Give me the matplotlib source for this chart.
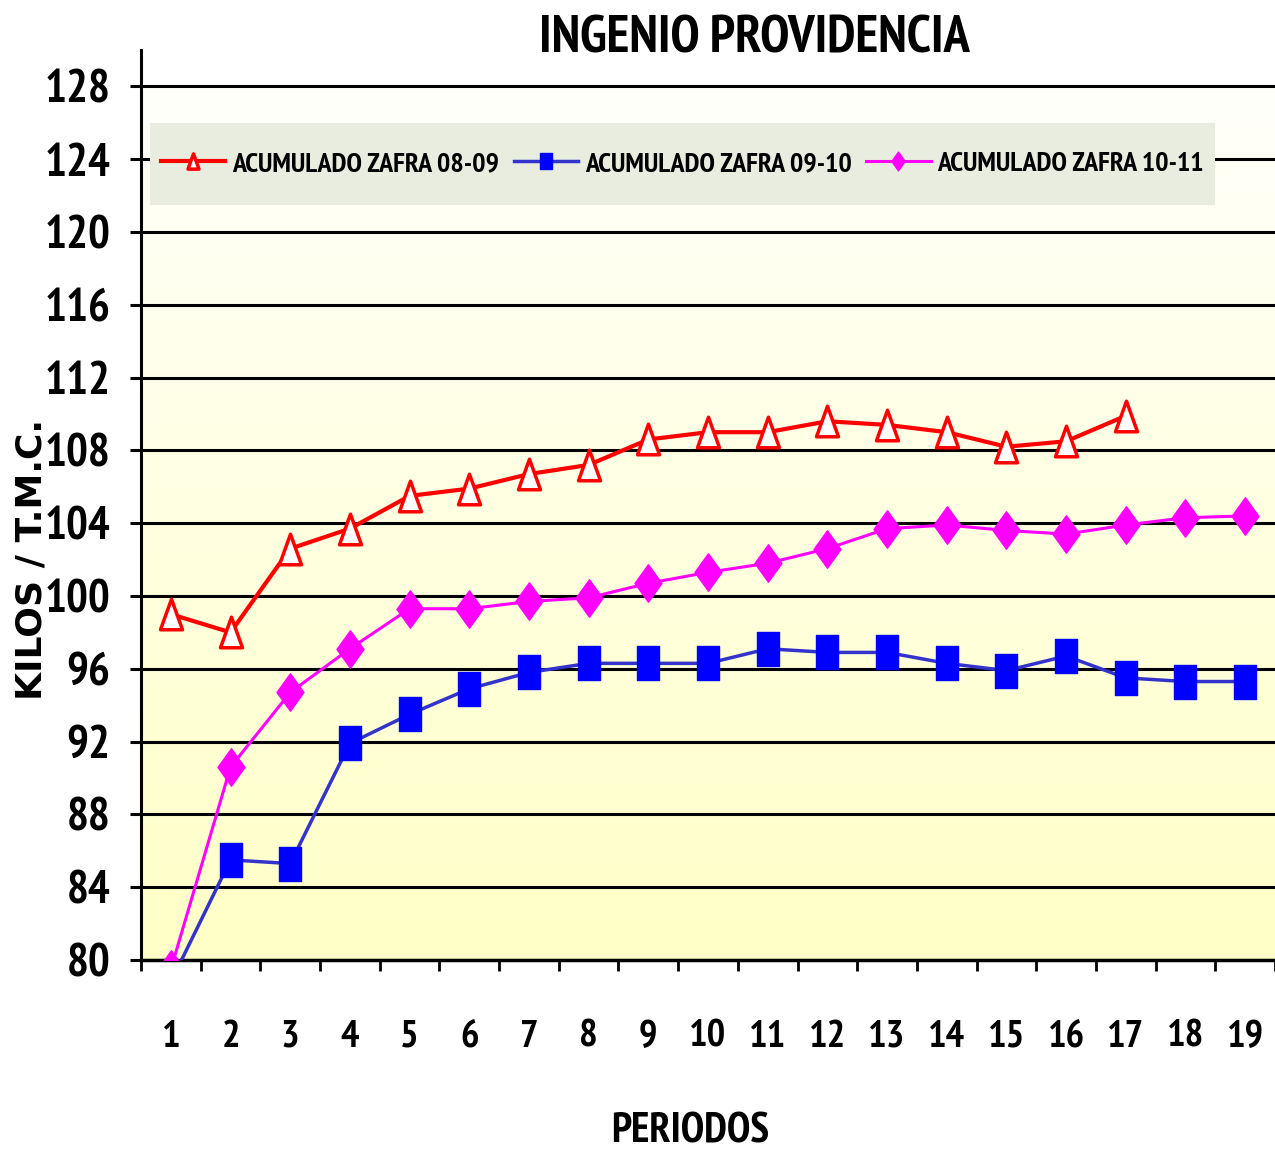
import numpy as np
import matplotlib
matplotlib.use("Agg")
import matplotlib.pyplot as plt
from matplotlib import font_manager as fm
from matplotlib.patches import Rectangle
from matplotlib.path import Path

periods = list(range(1, 20))
zafra_08_09 = [99.0, 98.0, 102.6, 103.7, 105.5, 105.9, 106.7, 107.2, 108.6, 109.0,
               109.0, 109.6, 109.4, 109.0, 108.2, 108.5, 109.9]
zafra_09_10 = [78.8, 85.5, 85.3, 91.9, 93.5, 94.9, 95.8, 96.3, 96.3, 96.3,
               97.1, 96.9, 96.9, 96.3, 95.9, 96.7, 95.5, 95.3, 95.3]
zafra_10_11 = [79.5, 90.6, 94.7, 97.1, 99.3, 99.3, 99.7, 99.9, 100.7, 101.3,
               101.8, 102.6, 103.7, 103.9, 103.6, 103.4, 103.9, 104.3, 104.4]
labels = ["ACUMULADO ZAFRA 08-09", "ACUMULADO ZAFRA 09-10", "ACUMULADO ZAFRA 10-11"]
y_ticks = list(range(80, 129, 4))


def bold_narrow_font():
    """Pick a bold condensed face if one is installed, else Liberation Sans Bold."""
    def is_bold(f):
        return f.weight in ("bold", 700, "heavy") or (isinstance(f.weight, int) and f.weight >= 600)
    fonts = fm.fontManager.ttflist
    for key in ("narrow", "condensed"):
        for f in fonts:
            if is_bold(f) and (key in f.name.lower() or key in str(f.stretch).lower()
                               or key in f.fname.lower()) and "oblique" not in f.fname.lower() \
                    and "italic" not in f.fname.lower():
                return f.fname, 1.0
    for f in fonts:
        if f.name == "Liberation Sans" and is_bold(f) and f.style == "normal":
            return f.fname, 0.84
    return None, 0.8


narrow_path, k = bold_narrow_font()


def fp(size):
    if narrow_path:
        return fm.FontProperties(fname=narrow_path, size=size)
    return fm.FontProperties(family="DejaVu Sans", weight="bold", size=size)


# markers in the source are stretched vertically
tri = Path([(-0.36, -0.5), (0.36, -0.5), (0.0, 0.5), (-0.36, -0.5)],
           [Path.MOVETO, Path.LINETO, Path.LINETO, Path.CLOSEPOLY])
rect = Path([(-0.34, -0.5), (0.34, -0.5), (0.34, 0.5), (-0.34, 0.5), (-0.34, -0.5)],
            [Path.MOVETO, Path.LINETO, Path.LINETO, Path.LINETO, Path.CLOSEPOLY])
diam = Path([(0.0, -0.5), (0.36, 0.0), (0.0, 0.5), (-0.36, 0.0), (0.0, -0.5)],
            [Path.MOVETO, Path.LINETO, Path.LINETO, Path.LINETO, Path.CLOSEPOLY])

fig = plt.figure(figsize=(12.75, 11.54), dpi=100)
ax = fig.add_axes([0.1106, 0.1681, 0.8894, 0.7886])

# background gradient (white at top to pale yellow at bottom)
grad = np.linspace(0, 1, 256).reshape(-1, 1)
top = np.array([1.0, 1.0, 0.985])
bottom = np.array([1.0, 1.0, 0.78])
img = top + (bottom - top) * grad
ax.imshow(img[:, None, :].repeat(2, axis=1), extent=(0.5, 19.5, 80, 128),
          aspect="auto", origin="upper", zorder=0)

ax.plot(periods[:len(zafra_08_09)], zafra_08_09, color="#FF0000", lw=3,
        marker=tri, ms=22, mfc="white", mec="#FF0000", mew=2.5,
        label=labels[0], zorder=3)
ax.plot(periods, zafra_09_10, color="#3333CC", lw=2.5,
        marker=rect, ms=24, mfc="#0000FF", mec="#0000FF", mew=1,
        label=labels[1], zorder=3)
ax.plot(periods, zafra_10_11, color="#FF00FF", lw=2.2,
        marker=diam, ms=27, mfc="#FF00FF", mec="#FF00FF", mew=1,
        label=labels[2], zorder=3)

ax.set_xlim(0.5, 19.5)
ax.set_ylim(80, 130)
ax.set_yticks(y_ticks)
ax.set_yticklabels([str(v) for v in y_ticks], fontproperties=fp(33 * (0.5 + k / 2)))
ax.set_xticks(periods)
ax.set_xticklabels([str(p) for p in periods], fontproperties=fp(28 * (0.5 + k / 2)))
ax.set_xticks(np.arange(0.5, 20, 1), minor=True)
ax.tick_params(axis="x", which="major", length=0, pad=43)
ax.tick_params(axis="x", which="minor", length=8, width=2, direction="out")
ax.tick_params(axis="y", length=8, width=2.2, pad=14)

ax.grid(axis="y", color="black", lw=2.2, zorder=1)
ax.set_axisbelow(True)
for side in ("top", "right"):
    ax.spines[side].set_visible(False)
ax.spines["left"].set_linewidth(2.2)
ax.spines["bottom"].set_linewidth(2.5)

ax.set_ylabel("KILOS / T.M.C.", family="DejaVu Sans", fontweight="bold", fontsize=26)
ax.yaxis.set_label_coords(-0.082, 0.44)
ax.set_xlabel("PERIODOS", fontproperties=fp(30.5 * k))
ax.xaxis.set_label_coords(0.484, -0.168)
fig.text(0.592, 0.966, "INGENIO PROVIDENCIA", fontproperties=fp(38 * k),
         ha="center", va="center")

# legend panel drawn as its own box so its padding matches the original
ax.add_patch(Rectangle((0.0079, 0.8297), 0.9391, 0.0901, transform=ax.transAxes,
                       facecolor="#E9EDE0", edgecolor="none", zorder=2))
leg = ax.legend(loc="center", bbox_to_anchor=(0.4775, 0.875), ncol=3,
                prop=fp(20.2 * k), handlelength=2.3, columnspacing=0.5,
                handletextpad=0.25, borderpad=0.3, frameon=False,
                markerscale=0.5)
leg.set_zorder(4)

fig.savefig("out.png", dpi=100)
